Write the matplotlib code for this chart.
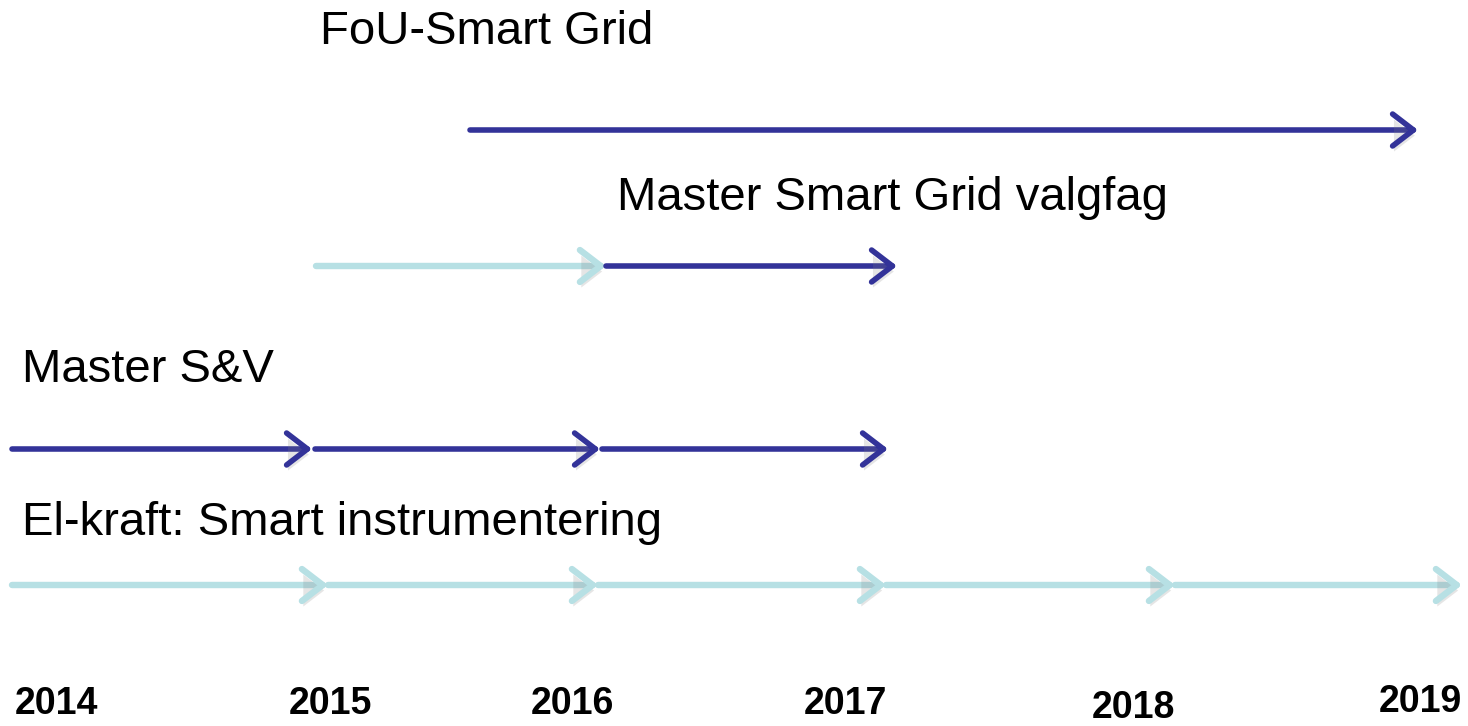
import matplotlib.pyplot as plt
from matplotlib.patches import FancyArrowPatch
import matplotlib.patheffects as pe

plt.rcParams['font.family'] = ['Liberation Sans', 'DejaVu Sans']

''' Data '''
# colours of the phases
dark = '#333399'
light = '#B7E0E4'

# row labels and their position
row_labels = ['FoU-Smart Grid', 'Master Smart Grid valgfag', 'Master S&V', 'El-kraft: Smart instrumentering']
label_x = [320, 617, 22, 22]
label_y = [32, 198, 370, 523]

# arrow segments per row: (start, end, colour)
row_y = [130, 266, 449, 585]
fou_segments = [(470, 1418, dark)]
master_sg_segments = [(316, 606, light), (606, 897, dark)]
master_sv_segments = [(12, 312, dark), (315, 600, dark), (602, 888, dark)]
elkraft_segments = [(12, 328, light), (328, 598, light), (598, 886, light),
                    (886, 1175, light), (1175, 1462, light)]
all_segments = [fou_segments, master_sg_segments, master_sv_segments, elkraft_segments]

# years along the bottom
years = ['2014', '2015', '2016', '2017', '2018', '2019']
year_x = [56, 330, 572, 845, 1133, 1420]
year_y = [704, 704, 704, 704, 708, 702]

''' Plot '''
fig = plt.figure(figsize=(14.68, 7.26), dpi=100)
ax = fig.add_axes([0, 0, 1, 1])
ax.set_xlim(0, 1468)
ax.set_ylim(726, 0)
ax.axis('off')

shadow = [pe.SimplePatchShadow(offset=(1, -4), shadow_rgbFace='gray', alpha=0.2), pe.Normal()]

for y, segs in zip(row_y, all_segments):
    for x0, x1, c in segs:
        lw = 4.0 if c == dark else 4.6
        arr = FancyArrowPatch((x0, y), (x1, y),
                              arrowstyle='->,head_length=1.5,head_width=1.15',
                              mutation_scale=10, lw=lw, color=c,
                              shrinkA=0, shrinkB=0,
                              capstyle='round', joinstyle='round')
        arr.set_path_effects(shadow)
        ax.add_patch(arr)

for txt, x, y in zip(row_labels, label_x, label_y):
    ax.text(x, y, txt, fontsize=34, ha='left', va='center', color='black')

for yr, x, y in zip(years, year_x, year_y):
    ax.text(x, y, yr, fontsize=27, fontweight='bold', ha='center', va='center', color='black')

plt.savefig('out.png', dpi=100)
